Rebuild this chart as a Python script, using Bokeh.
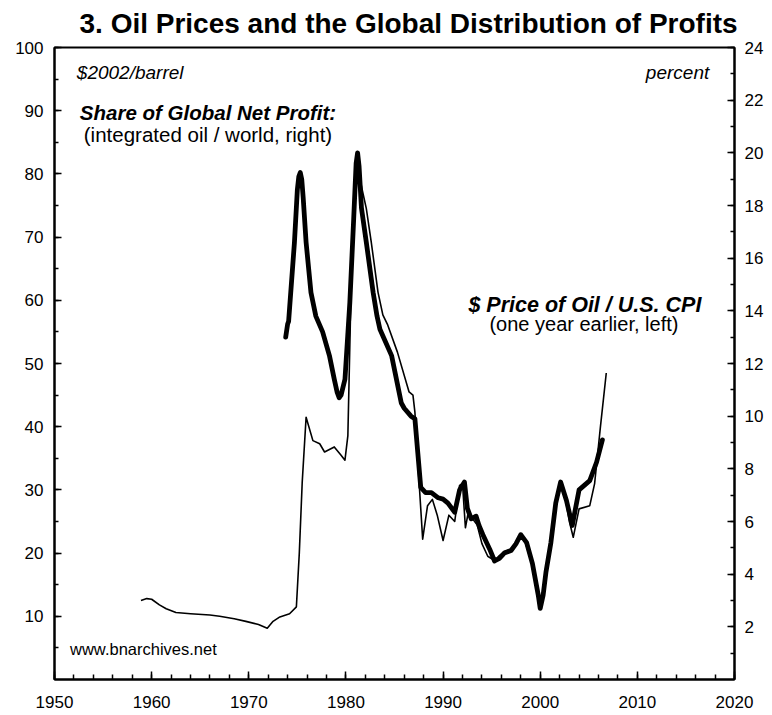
from bokeh.plotting import figure
from bokeh.models import Range1d, LinearAxis, FixedTicker, Label
from bokeh.embed import file_html
from bokeh.resources import INLINE

# Real oil price ($2002/barrel, one year earlier) - left axis
oil_years = [1958.9, 1959.5, 1960.0, 1960.8, 1961.5, 1962.5, 1964.0, 1966.0, 1967.0, 1968.5,
             1969.7, 1971.0, 1971.9, 1972.5, 1973.2, 1974.2, 1974.9, 1975.2, 1975.5, 1975.9,
             1976.6, 1977.3, 1977.8, 1978.8, 1979.5, 1979.9, 1980.2, 1980.5, 1980.9, 1981.2,
             1981.6, 1982.1, 1982.6, 1983.3, 1983.8, 1984.3, 1985.3, 1986.5, 1986.9, 1987.1,
             1987.5, 1987.9, 1988.4, 1988.9, 1989.4, 1990.0, 1990.6, 1991.2, 1991.7, 1992.0,
             1992.3, 1992.6, 1993.0, 1993.5, 1994.0, 1994.6, 1995.3, 1995.8, 1996.4, 1997.0,
             1997.5, 1998.0, 1998.5, 1999.2, 1999.8, 2000.0, 2000.5, 2001.0, 2001.5, 2002.1,
             2002.5, 2003.0, 2003.4, 2004.0, 2005.1, 2005.6, 2006.2, 2006.8]
oil_price = [12.5, 12.8, 12.7, 11.8, 11.2, 10.6, 10.4, 10.2, 10.0, 9.6,
             9.2, 8.7, 8.1, 9.2, 9.9, 10.4, 11.5, 20.0, 31.2, 41.5,
             37.8, 37.3, 36.0, 36.8, 35.5, 34.7, 38.6, 59.7, 78.0, 83.2,
             78.0, 74.5, 69.3, 61.3, 57.7, 56.1, 51.8, 45.5, 45.0, 42.3,
             32.0, 22.2, 27.5, 28.5, 26.0, 22.0, 26.0, 25.0, 30.7, 31.0,
             24.0, 26.5, 25.5, 24.5, 21.5, 19.5, 18.8, 19.6, 20.3, 20.6,
             21.5, 23.0, 21.5, 18.0, 13.5, 11.5, 15.5, 21.0, 27.0, 30.5,
             29.5, 25.0, 22.5, 27.0, 27.5, 31.0, 40.0, 48.5]

# Integrated oil share of global net profit (percent) - right axis
profit_years = [1973.8, 1974.0, 1974.1, 1974.7, 1975.0, 1975.15, 1975.3, 1975.45, 1975.6, 1975.9,
                1976.4, 1976.9, 1977.6, 1978.3, 1978.8, 1979.1, 1979.3, 1979.5, 1979.9, 1980.4,
                1980.8, 1981.05, 1981.2, 1981.35, 1981.6, 1982.1, 1982.8, 1983.2, 1983.5, 1984.7,
                1985.7, 1986.0, 1986.7, 1987.1, 1987.4, 1987.7, 1988.2, 1988.8, 1989.5, 1990.0,
                1990.5, 1991.2, 1991.7, 1992.2, 1992.5, 1992.9, 1993.4, 1993.7, 1994.1, 1994.8,
                1995.3, 1995.8, 1996.3, 1997.0, 1997.5, 1998.0, 1998.6, 1999.2, 1999.8, 2000.0,
                2000.3, 2000.6, 2001.1, 2001.6, 2002.1, 2002.7, 2003.3, 2004.0, 2005.1, 2005.8,
                2006.4]
profit_share = [13.0, 13.5, 13.6, 16.6, 18.6, 19.1, 19.25, 19.0, 18.3, 16.6,
                14.7, 13.8, 13.2, 12.3, 11.4, 10.9, 10.7, 10.8, 11.4, 14.3,
                17.5, 19.6, 20.0, 19.5, 17.9, 16.6, 14.7, 13.8, 13.3, 12.3,
                10.5, 10.3, 10.0, 9.9, 8.6, 7.3, 7.1, 7.1, 6.9, 6.85,
                6.7, 6.35, 7.2, 7.5, 6.5, 6.1, 6.2, 5.85, 5.5, 4.95,
                4.5, 4.6, 4.8, 4.9, 5.15, 5.5, 5.2, 4.4, 3.2, 2.7,
                3.2, 4.1, 5.2, 6.7, 7.5, 6.8, 5.85, 7.2, 7.55, 8.25,
                9.1]

x_ticks = list(range(1950, 2021, 10))
x_minor = list(range(1950, 2021, 2))
left_ticks = list(range(10, 101, 10))
left_minor = list(range(5, 101, 5))
right_ticks = list(range(2, 25, 2))
right_minor = list(range(1, 25, 1))

FONT = "Liberation Sans"

p = figure(frame_width=680, frame_height=632, output_backend="svg", toolbar_location=None,
           x_range=Range1d(1950, 2020), y_range=Range1d(0, 100),
           min_border_left=54, min_border_right=38, min_border_top=46, min_border_bottom=36)
p.extra_y_ranges = {"pct": Range1d(0, 24)}

p.title.text = "3. Oil Prices and the Global Distribution of Profits"
p.title.text_font = FONT
p.title.text_font_size = "28px"
p.title.text_font_style = "bold"
p.title.align = "left"
p.title.vertical_align = "top"
p.title.offset = 25
p.title.standoff = 14
p.title.text_color = "black"

p.xgrid.grid_line_color = None
p.ygrid.grid_line_color = None
p.outline_line_color = "black"
p.outline_line_width = 2
p.background_fill_color = "white"
p.border_fill_color = "white"

right_axis = LinearAxis(y_range_name="pct")
p.add_layout(right_axis, "right")

def style_axis(ax, ticks, minor, maj_in, min_in, standoff, align=None):
    ax.ticker = FixedTicker(ticks=ticks, minor_ticks=minor)
    ax.major_tick_in = maj_in
    ax.major_tick_out = 0
    ax.minor_tick_in = min_in
    ax.minor_tick_out = 0
    ax.axis_line_width = 2
    ax.major_tick_line_width = 1.5
    ax.minor_tick_line_width = 1.5
    ax.major_label_text_font = FONT
    ax.major_label_text_font_size = "17px"
    ax.major_label_text_color = "black"
    ax.major_label_standoff = standoff
    if align:
        ax.major_label_text_align = align

style_axis(p.xaxis[0], x_ticks, x_minor, 8, 5, 16)
style_axis(p.yaxis[0], left_ticks, left_minor, 7, 4, 11, "center")
style_axis(right_axis, right_ticks, right_minor, 7, 4, 10, "center")

p.line(oil_years, oil_price, line_color="black", line_width=1.6, line_join="round")
p.line(profit_years, profit_share, y_range_name="pct", line_color="black",
       line_width=4.8, line_join="round", line_cap="round")

def add_label(x, y, text, size, style="normal", align="left"):
    p.add_layout(Label(x=x, y=y, text=text, text_font=FONT, text_font_size=size,
                       text_font_style=style, text_align=align, text_baseline="middle",
                       text_color="black"))

add_label(1952.3, 96.0, "$2002/barrel", "19px", "italic")
add_label(2017.4, 96.0, "percent", "19px", "italic", "right")
add_label(1965.8, 89.7, "Share of Global Net Profit:", "20.5px", "bold italic", "center")
add_label(1965.8, 86.2, "(integrated oil / world, right)", "20.5px", "normal", "center")
add_label(2004.6, 59.3, "$ Price of Oil / U.S. CPI", "21.5px", "bold italic", "center")
add_label(2004.5, 56.2, "(one year earlier, left)", "20px", "normal", "center")
add_label(1951.6, 4.8, "www.bnarchives.net", "16.5px", "normal")

open("out.html", "w").write(file_html(p, INLINE))
